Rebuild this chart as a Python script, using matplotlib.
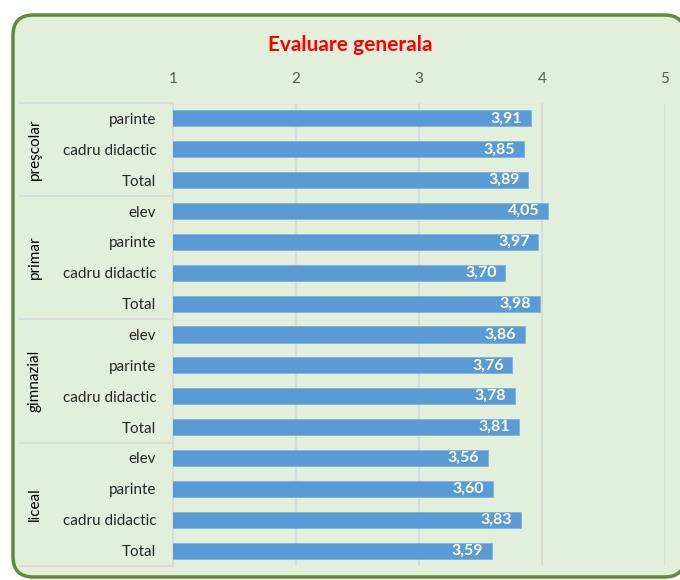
import matplotlib
matplotlib.use('Agg')
import matplotlib.pyplot as plt
from matplotlib.patches import FancyBboxPatch
import matplotlib.transforms as mtransforms

plt.rcParams['font.family'] = ['Lato', 'DejaVu Sans']

groups = ['preşcolar', 'primar', 'gimnazial', 'liceal']
prescolar_cats = ['parinte', 'cadru didactic', 'Total']
prescolar_vals = [3.91, 3.85, 3.89]
primar_cats = ['elev', 'parinte', 'cadru didactic', 'Total']
primar_vals = [4.05, 3.97, 3.70, 3.98]
gimnazial_cats = ['elev', 'parinte', 'cadru didactic', 'Total']
gimnazial_vals = [3.86, 3.76, 3.78, 3.81]
liceal_cats = ['elev', 'parinte', 'cadru didactic', 'Total']
liceal_vals = [3.56, 3.60, 3.83, 3.59]

all_cats = [prescolar_cats, primar_cats, gimnazial_cats, liceal_cats]
all_vals = [prescolar_vals, primar_vals, gimnazial_vals, liceal_vals]

labels = [c for cats in all_cats for c in cats]
values = [v for vals in all_vals for v in vals]
ypos = list(range(len(values)))

fig = plt.figure(figsize=(6.8, 5.8), dpi=100)
fig.patch.set_facecolor('white')

# rounded frame (runs off the right edge like the original screenshot)
W, H = 680.0, 580.0
frame = FancyBboxPatch((13 / W, 3 / H), (685 - 13) / W, (565 - 3) / H,
                       boxstyle='round,pad=0,rounding_size=0.03',
                       transform=fig.transFigure, facecolor='#E2EFDA',
                       edgecolor='#5E8C3A', linewidth=2.5, mutation_aspect=W / H,
                       zorder=-10)
fig.patches.append(frame)

ax = fig.add_axes([173 / W, 1 - 566 / H, (665 - 173) / W, (566 - 103) / H])
ax.set_facecolor('none')

ax.barh(ypos, values, height=0.52, color='#5B9BD5', edgecolor='#7FB0DE', linewidth=0.6, zorder=3)
for y, v in zip(ypos, values):
    ax.text(v - 0.07, y, ('%.2f' % v).replace('.', ','), ha='right', va='center',
            color='white', fontsize=11.5, fontweight='bold', zorder=4)

ax.set_xlim(1, 5)
ax.set_ylim(len(values) - 0.5, -0.5)
ax.set_xticks([1, 2, 3, 4, 5])
ax.xaxis.tick_top()
ax.tick_params(axis='x', length=0, pad=12, labelsize=11, labelcolor='#595959')
ax.set_yticks(ypos)
ax.set_yticklabels(labels)
ax.tick_params(axis='y', length=0, pad=12, labelsize=11, labelcolor='#262626')

for x in [2, 3, 4, 5]:
    ax.axvline(x, color='#D9D9D9', linewidth=1.2, zorder=1)

for s in ['top', 'right', 'bottom']:
    ax.spines[s].set_visible(False)
ax.spines['left'].set_color('#D9D9D9')
ax.spines['left'].set_linewidth(1.2)

# multi-level category separators and group labels
trans = mtransforms.blended_transform_factory(ax.transAxes, ax.transData)
x0 = (20 - 173) / (665 - 173)
start = -0.5
for g, cats in zip(groups, all_cats):
    end = start + len(cats)
    ax.plot([x0, 0], [start, start], transform=trans, color='#D9D9D9',
            linewidth=1.2, clip_on=False)
    ax.text((35 - 173) / (665 - 173), (start + end) / 2, g, transform=trans,
            rotation=90, ha='center', va='center', fontsize=11, color='#000000')
    start = end
ax.plot([x0, 0], [start, start], transform=trans, color='#D9D9D9',
        linewidth=1.2, clip_on=False)

fig.text(350 / W, 1 - 45 / H, 'Evaluare generala', ha='center', va='center',
         color='#FF0000', fontsize=15, fontweight='bold')

fig.savefig('out.png', dpi=100)
